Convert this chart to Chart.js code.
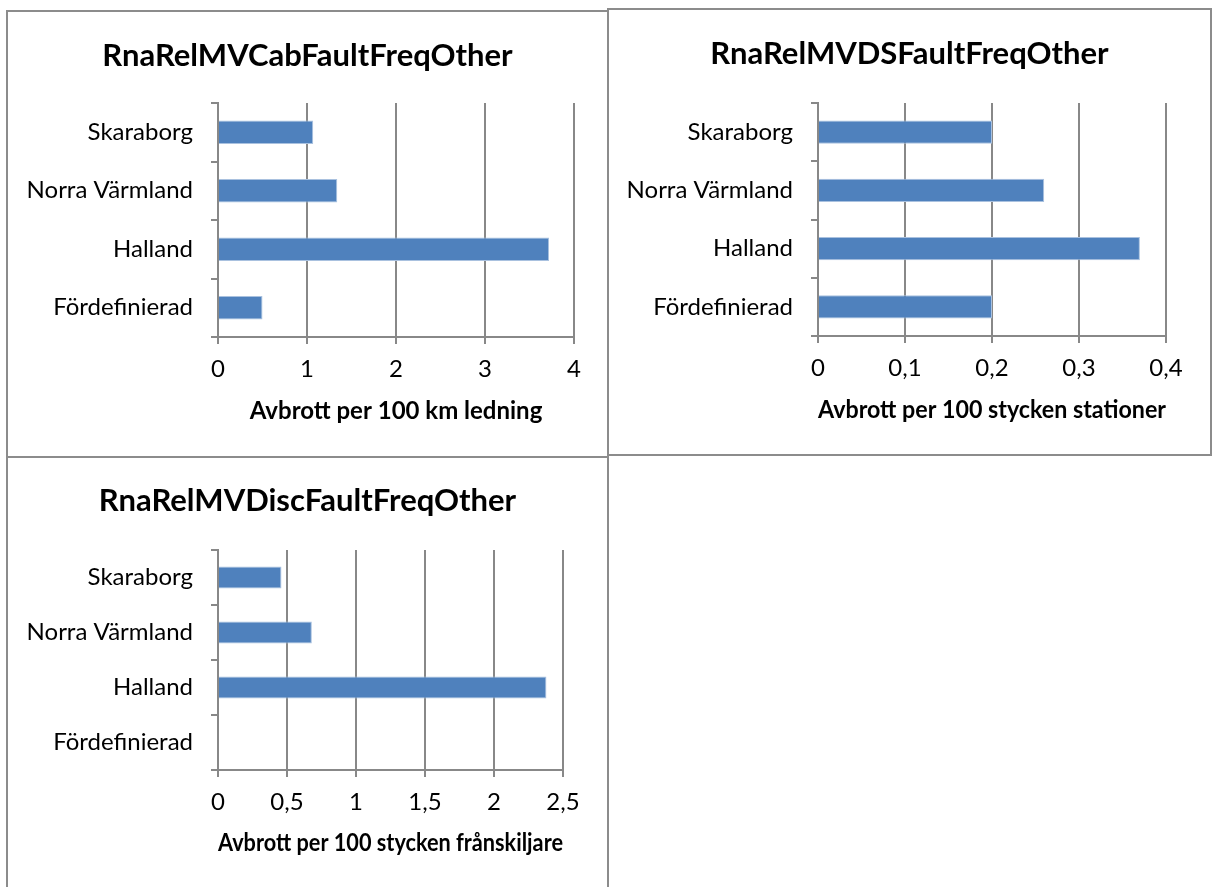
<!DOCTYPE html>
<html>
<head>
<meta charset="utf-8">
<script src="https://cdn.jsdelivr.net/npm/chart.js@4.4.1/dist/chart.umd.min.js"></script>
<style>
    html, body { margin: 0; padding: 0; background: #fff; }
    body { width: 1212px; height: 887px; position: relative; overflow: hidden; }
    .panel { position: absolute; border: 2px solid #8c8c8c; box-sizing: border-box; background: #fff; }
    .panel canvas { display: block; }
</style>
</head>
<body>
<div class="panel" style="left:6px; top:10px; width:603px; height:448px;">
    <canvas id="cabChart" width="599" height="444"></canvas>
</div>
<div class="panel" style="left:607px; top:8px; width:605px; height:448px;">
    <canvas id="dsChart" width="601" height="444"></canvas>
</div>
<div class="panel" style="left:6px; top:456px; width:603px; height:440px;">
    <canvas id="discChart" width="599" height="429"></canvas>
</div>

<script>
// Regions, shared by all three charts (top to bottom)
const regions = ['Skaraborg', 'Norra Värmland', 'Halland', 'Fördefinierad'];

// Avbrott per 100 km ledning
const cabFaults = [1.07, 1.34, 3.72, 0.5];
const cabTicks = ['0', '1', '2', '3', '4'];

// Avbrott per 100 stycken stationer
const dsFaults = [0.2, 0.26, 0.37, 0.2];
const dsTicks = ['0', '0,1', '0,2', '0,3', '0,4'];

// Avbrott per 100 stycken frånskiljare
const discFaults = [0.46, 0.68, 2.38, 0];
const discTicks = ['0', '0,5', '1', '1,5', '2', '2,5'];

const FONT = 'Lato, "Open Sans", sans-serif';
const GRID = '#888888';
const BAR = '#4f81bd';

function makeChart(id, cfg) {
    const ctx = document.getElementById(id).getContext('2d');
    return new Chart(ctx, {
        type: 'bar',
        data: {
            labels: regions,
            datasets: [{
                data: cfg.values,
                backgroundColor: BAR,
                borderColor: '#a9c1df',
                borderWidth: 1,
                barPercentage: 0.4,
                categoryPercentage: 1
            }]
        },
        options: {
            indexAxis: 'y',
            responsive: false,
            animation: false,
            devicePixelRatio: 1,
            plugins: {
                legend: { display: false },
                tooltip: { enabled: false },
                title: {
                    display: true,
                    text: cfg.title,
                    color: '#000',
                    font: { family: FONT, size: 31, weight: 'bold', lineHeight: 1.2 },
                    padding: { top: cfg.titleTop, bottom: cfg.titleBottom }
                }
            },
            scales: {
                x: {
                    min: 0,
                    max: cfg.max,
                    ticks: {
                        stepSize: cfg.step,
                        color: '#000',
                        padding: 11,
                        font: { family: FONT, size: 24 },
                        callback: (value, index) => cfg.ticks[index]
                    },
                    grid: {
                        color: GRID,
                        lineWidth: 2,
                        tickLength: 7
                    },
                    border: { color: GRID, width: 2 },
                    title: {
                        display: true,
                        text: cfg.axisTitle,
                        color: '#000',
                        font: { family: FONT, size: 24, weight: 'bold', lineHeight: 1.2 },
                        padding: { top: 4, bottom: cfg.axisTitleBottom }
                    },
                    afterFit: (scale) => { scale.height = cfg.xHeight; }
                },
                y: {
                    ticks: {
                        color: '#000',
                        padding: 18,
                        font: { family: FONT, size: 24 }
                    },
                    grid: {
                        drawOnChartArea: false,
                        color: GRID,
                        lineWidth: 2,
                        tickLength: 7
                    },
                    border: { color: GRID, width: 2 },
                    afterFit: (scale) => { scale.width = cfg.plotLeft; }
                },
                // empty box on the right: leaves white space after the plot
                // without shifting the centred title
                gap: {
                    type: 'linear',
                    axis: 'y',
                    position: 'right',
                    ticks: { display: false },
                    grid: { display: false },
                    border: { display: false },
                    afterFit: (scale) => { scale.width = cfg.gapRight; }
                }
            }
        }
    });
}

makeChart('cabChart', {
    title: 'RnaRelMVCabFaultFreqOther',
    axisTitle: 'Avbrott per 100 km ledning',
    values: cabFaults,
    ticks: cabTicks,
    max: 4,
    step: 1,
    plotLeft: 210,
    gapRight: 33,
    xHeight: 119,
    titleTop: 25.4,
    titleBottom: 28.4,
    axisTitleBottom: 30.6
});

makeChart('dsChart', {
    title: 'RnaRelMVDSFaultFreqOther',
    axisTitle: 'Avbrott per 100 stycken stationer',
    values: dsFaults,
    ticks: dsTicks,
    max: 0.4,
    step: 0.1,
    plotLeft: 209,
    gapRight: 44,
    xHeight: 118,
    titleTop: 25.4,
    titleBottom: 30.4,
    axisTitleBottom: 29.6
});

makeChart('discChart', {
    title: 'RnaRelMVDiscFaultFreqOther',
    axisTitle: 'Avbrott per 100 stycken frånskiljare',
    values: discFaults,
    ticks: discTicks,
    max: 2.5,
    step: 0.5,
    plotLeft: 210,
    gapRight: 44,
    xHeight: 117,
    titleTop: 24.4,
    titleBottom: 30.4,
    axisTitleBottom: 29.6
});
</script>
</body>
</html>
